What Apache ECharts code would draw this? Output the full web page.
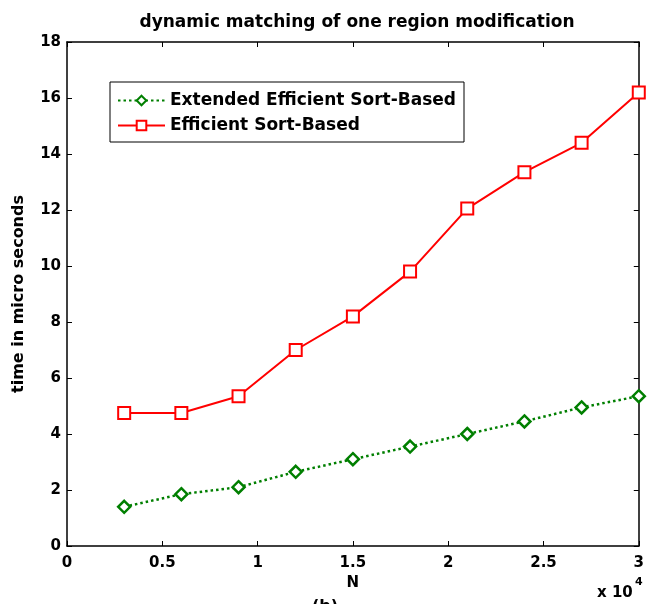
<!DOCTYPE html>
<html><head><meta charset="utf-8">
<script src="https://cdn.jsdelivr.net/npm/echarts@6/dist/echarts.min.js"></script>
<style>html,body{margin:0;padding:0;background:#fff}#c{width:647px;height:604px}</style>
</head><body><div id="c"></div>
<script>
const nValues = [3000, 6000, 9000, 12000, 15000, 18000, 21000, 24000, 27000, 30000];
const extendedEfficient = [1.4, 1.85, 2.1, 2.65, 3.1, 3.55, 4.0, 4.45, 4.95, 5.35];
const efficient = [4.75, 4.75, 5.35, 7.0, 8.2, 9.8, 12.05, 13.35, 14.4, 16.2];
const seriesNames = ['Extended Efficient Sort-Based', 'Efficient Sort-Based'];

const F = 'DejaVu Sans, sans-serif';
const chart = echarts.init(document.getElementById('c'));
const axisLine = {show: true, onZero: false, lineStyle: {color: '#000', width: 1.5}};
const tick = {show: true, inside: true, length: 5, lineStyle: {color: '#000', width: 1}};
chart.setOption({
  animation: false,
  backgroundColor: '#fff',
  title: {text: 'dynamic matching of one region modification', left: 352, textAlign: 'center', top: 9,
    textStyle: {fontFamily: F, fontWeight: 'bold', fontSize: 17, color: '#000'}},
  grid: {left: 67, right: 6, top: 42, bottom: 58},
  legend: {
    orient: 'vertical', left: 110, top: 82, itemWidth: 47, itemHeight: 12, itemGap: 8,
    padding: [10, 8, 8, 7], borderColor: '#000', borderWidth: 1, backgroundColor: '#fff',
    textStyle: {fontFamily: F, fontWeight: 'bold', fontSize: 17, color: '#000'},
    data: seriesNames
  },
  xAxis: [{
    type: 'value', min: 0, max: 30000, interval: 5000, position: 'bottom',
    axisLine: axisLine, axisTick: tick, splitLine: {show: false},
    axisLabel: {formatter: v => String(v / 10000), fontFamily: F, fontWeight: 'bold', fontSize: 15, color: '#000', margin: 10},
    name: 'N', nameLocation: 'middle', nameGap: 29,
    nameTextStyle: {fontFamily: F, fontWeight: 'bold', fontSize: 15, color: '#000'}
  }, {
    type: 'value', min: 0, max: 30000, interval: 5000, position: 'top',
    axisLine: axisLine, axisTick: tick, axisLabel: {show: false}, splitLine: {show: false}
  }],
  yAxis: [{
    type: 'value', min: 0, max: 18, interval: 2, position: 'left',
    axisLine: axisLine, axisTick: tick, splitLine: {show: false},
    axisLabel: {fontFamily: F, fontWeight: 'bold', fontSize: 15, color: '#000', margin: 6},
    name: 'time in micro seconds', nameLocation: 'middle', nameGap: 40,
    nameTextStyle: {fontFamily: F, fontWeight: 'bold', fontSize: 16, color: '#000'}
  }, {
    type: 'value', min: 0, max: 18, interval: 2, position: 'right',
    axisLine: axisLine, axisTick: tick, axisLabel: {show: false}, splitLine: {show: false}
  }],
  graphic: [
    {type: 'text', left: 597, top: 586, style: {text: 'x 10', font: 'bold 15px ' + F, fill: '#000'}},
    {type: 'text', left: 635, top: 577, style: {text: '4', font: 'bold 11px ' + F, fill: '#000'}},
    {type: 'text', left: 312, top: 599, style: {text: '(b)', font: 'bold 16px ' + F, fill: '#000'}}
  ],
  series: [{
    name: seriesNames[0], type: 'line',
    data: nValues.map((x, i) => [x, extendedEfficient[i]]),
    symbol: 'path://M0,-1L1,0L0,1L-1,0Z', symbolSize: 12, showSymbol: true,
    itemStyle: {color: '#fff', borderColor: '#007f00', borderWidth: 2.5},
    lineStyle: {color: '#007f00', width: 2.5, type: [2.5, 3]},
    color: '#007f00'
  }, {
    name: seriesNames[1], type: 'line',
    data: nValues.map((x, i) => [x, efficient[i]]),
    symbol: 'rect', symbolSize: 12,
    itemStyle: {color: '#fff', borderColor: '#ff0000', borderWidth: 2},
    lineStyle: {color: '#ff0000', width: 2},
    color: '#ff0000'
  }]
});
</script></body></html>
